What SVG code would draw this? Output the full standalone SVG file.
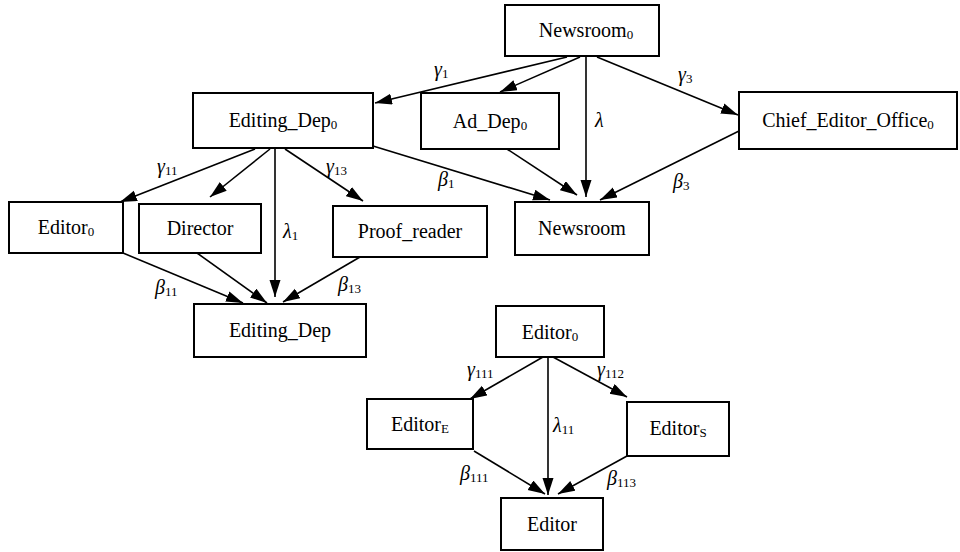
<svg xmlns="http://www.w3.org/2000/svg" width="960" height="552" viewBox="0 0 960 552" font-family="'Liberation Serif', 'Times New Roman', Times, 'DejaVu Serif', serif">
<style>
.box{fill:#fff;stroke:#000;stroke-width:2}
.nt{font-family:'Liberation Serif','Times New Roman',Times,'DejaVu Serif',serif;font-size:20px;fill:#000;text-anchor:middle}
.sb{font-size:13px}
.el{font-family:'Liberation Serif','Times New Roman',Times,'DejaVu Serif',serif;font-size:20px;fill:#000}
.g{font-style:italic}
.es{font-size:13px}
.edge{stroke:#000;stroke-width:1.6;fill:none;marker-end:url(#ah)}
</style>
<defs>
<marker id="ah" markerUnits="userSpaceOnUse" markerWidth="18" markerHeight="12" refX="17" refY="5.5" orient="auto">
<path d="M0,0 L17,5.5 L0,11 z" fill="#000"/>
</marker>
</defs>
<rect width="960" height="552" fill="#fff"/>
<g id="connectors">
<line class="edge" x1="567" y1="57" x2="375" y2="103"/>
<line class="edge" x1="580" y1="57" x2="500" y2="92"/>
<line class="edge" x1="586" y1="57" x2="586" y2="197"/>
<line class="edge" x1="597" y1="57" x2="738" y2="115"/>
<line class="edge" x1="739" y1="131" x2="600" y2="200"/>
<line class="edge" x1="507" y1="149" x2="577" y2="195"/>
<line class="edge" x1="373" y1="146" x2="550" y2="200"/>
<line class="edge" x1="255" y1="149" x2="120" y2="202"/>
<line class="edge" x1="270" y1="149" x2="210" y2="197"/>
<line class="edge" x1="275" y1="149" x2="275" y2="297"/>
<line class="edge" x1="285" y1="149" x2="363" y2="201"/>
<line class="edge" x1="123" y1="253" x2="243" y2="303"/>
<line class="edge" x1="197" y1="253" x2="267" y2="303"/>
<line class="edge" x1="360" y1="257" x2="283" y2="302"/>
<line class="edge" x1="543" y1="357" x2="470" y2="399"/>
<line class="edge" x1="548" y1="357" x2="548" y2="495"/>
<line class="edge" x1="553" y1="357" x2="627" y2="397"/>
<line class="edge" x1="474" y1="451" x2="545" y2="494"/>
<line class="edge" x1="627" y1="456" x2="558" y2="494"/>
<text class="el" x="434" y="76"><tspan class="g">γ</tspan><tspan class="es" dy="2">1</tspan></text>
<text class="el" x="678" y="81"><tspan class="g">γ</tspan><tspan class="es" dy="2">3</tspan></text>
<text class="el" x="595" y="127"><tspan class="g">λ</tspan></text>
<text class="el" x="673" y="188"><tspan class="g">β</tspan><tspan class="es" dy="2">3</tspan></text>
<text class="el" x="438" y="186"><tspan class="g">β</tspan><tspan class="es" dy="2">1</tspan></text>
<text class="el" x="157" y="173"><tspan class="g">γ</tspan><tspan class="es" dy="2">11</tspan></text>
<text class="el" x="283" y="238"><tspan class="g">λ</tspan><tspan class="es" dy="2">1</tspan></text>
<text class="el" x="326" y="173"><tspan class="g">γ</tspan><tspan class="es" dy="2">13</tspan></text>
<text class="el" x="155" y="294"><tspan class="g">β</tspan><tspan class="es" dy="2">11</tspan></text>
<text class="el" x="338" y="291"><tspan class="g">β</tspan><tspan class="es" dy="2">13</tspan></text>
<text class="el" x="467" y="376"><tspan class="g">γ</tspan><tspan class="es" dy="2">111</tspan></text>
<text class="el" x="597" y="376"><tspan class="g">γ</tspan><tspan class="es" dy="2">112</tspan></text>
<text class="el" x="553" y="432"><tspan class="g">λ</tspan><tspan class="es" dy="2">11</tspan></text>
<text class="el" x="460" y="480"><tspan class="g">β</tspan><tspan class="es" dy="2">111</tspan></text>
<text class="el" x="607" y="485"><tspan class="g">β</tspan><tspan class="es" dy="2">113</tspan></text>
</g>
<g id="newsroom0"><rect class="box" x="505" y="5" width="154" height="51"/><text class="nt" x="586" y="37">Newsroom<tspan class="sb" dy="2">0</tspan></text></g>
<g id="editing_dep0"><rect class="box" x="193" y="93" width="180" height="55"/><text class="nt" x="283" y="127">Editing_Dep<tspan class="sb" dy="2">0</tspan></text></g>
<g id="ad_dep0"><rect class="box" x="421" y="93" width="138" height="56"/><text class="nt" x="490" y="128">Ad_Dep<tspan class="sb" dy="2">0</tspan></text></g>
<g id="chief_editor_office0"><rect class="box" x="739" y="92" width="218" height="57"/><text class="nt" x="848" y="127">Chief_Editor_Office<tspan class="sb" dy="2">0</tspan></text></g>
<g id="newsroom"><rect class="box" x="515" y="202" width="134" height="53"/><text class="nt" x="582" y="235">Newsroom</text></g>
<g id="editor0_a"><rect class="box" x="9" y="202" width="114" height="51"/><text class="nt" x="66" y="234">Editor<tspan class="sb" dy="2">0</tspan></text></g>
<g id="director"><rect class="box" x="139" y="204" width="122" height="49"/><text class="nt" x="200" y="235">Director</text></g>
<g id="proof_reader"><rect class="box" x="333" y="206" width="154" height="51"/><text class="nt" x="410" y="238">Proof_reader</text></g>
<g id="editing_dep"><rect class="box" x="194" y="304" width="172" height="53"/><text class="nt" x="280" y="337">Editing_Dep</text></g>
<g id="editor0_b"><rect class="box" x="496" y="306" width="108" height="51"/><text class="nt" x="550" y="339">Editor<tspan class="sb" dy="2">0</tspan></text></g>
<g id="editor_e"><rect class="box" x="367" y="399" width="106" height="50"/><text class="nt" x="420" y="431">Editor<tspan class="sb" dy="2">E</tspan></text></g>
<g id="editor_s"><rect class="box" x="627" y="402" width="102" height="54"/><text class="nt" x="678" y="435">Editor<tspan class="sb" dy="2">S</tspan></text></g>
<g id="editor"><rect class="box" x="501" y="498" width="102" height="52"/><text class="nt" x="552" y="531">Editor</text></g>
</svg>
